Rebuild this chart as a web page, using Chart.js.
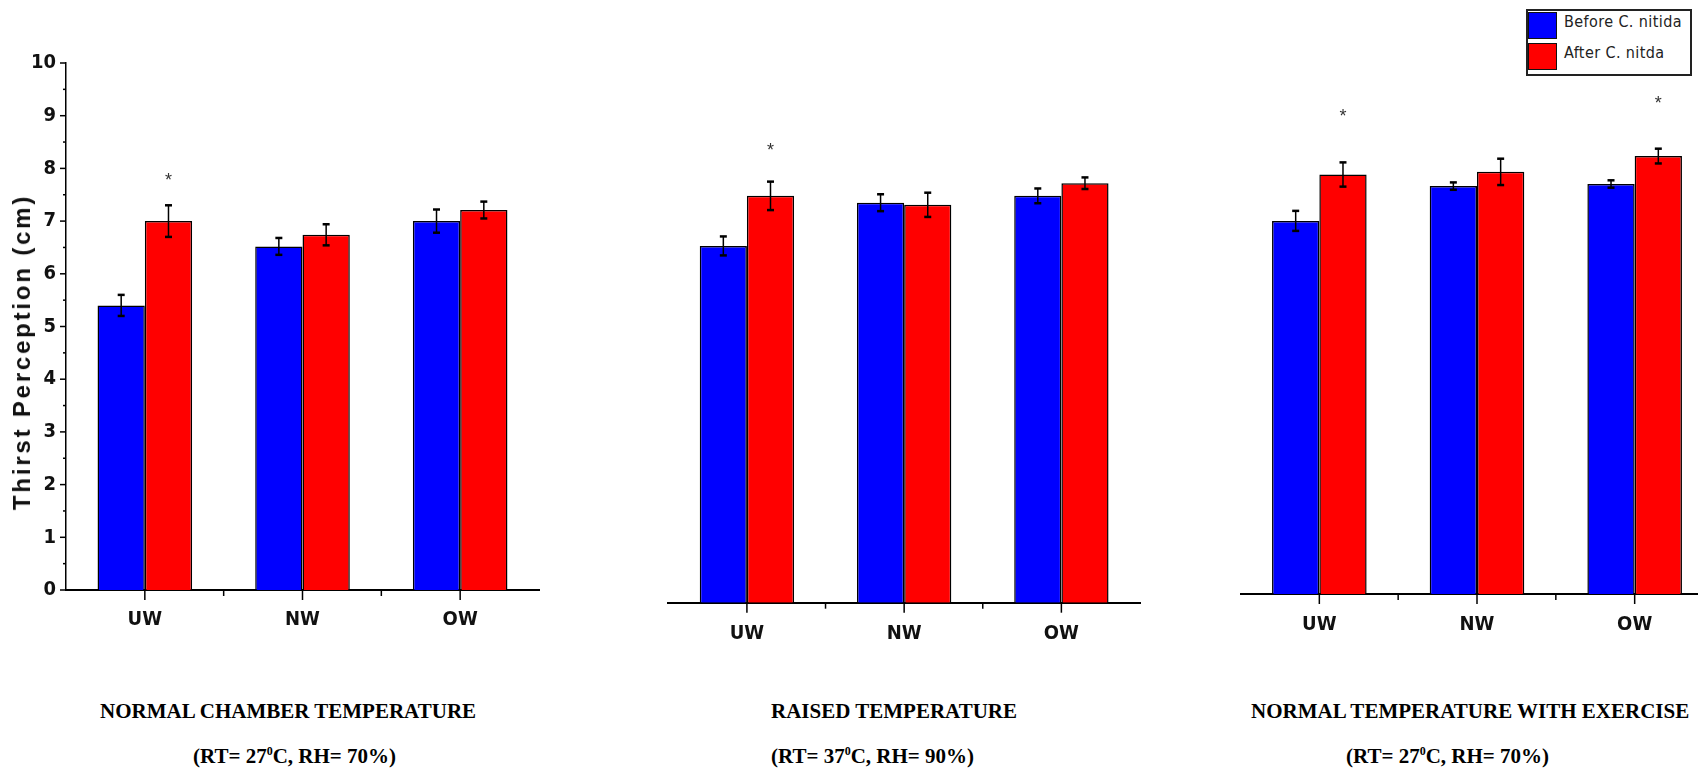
<!DOCTYPE html>
<html>
<head>
<meta charset="utf-8">
<script src="https://cdn.jsdelivr.net/npm/chart.js@4.4.1/dist/chart.umd.min.js"></script>
<style>
  html, body { margin: 0; padding: 0; width: 1698px; height: 770px; overflow: hidden; background: #fff; }
  canvas { position: absolute; top: 0; }
  #c1 { left: 0; }
  #c2 { left: 600px; }
  #c3 { left: 1180px; }
  #ytitle {
    position: absolute; left: 22px; top: 352px;
    transform: translate(-50%, -50%) rotate(-90deg);
    font: bold 24px 'Liberation Sans', Arial, sans-serif; letter-spacing: 2.8px;
    white-space: nowrap; color: #111;
  }
  .cap { position: absolute; font: bold 21px 'Liberation Serif', 'Times New Roman', serif; line-height: 24px; white-space: nowrap; color: #000; }
  .cap sup { font-size: 12px; line-height: 0; vertical-align: 8px; }
  #legend {
    position: absolute; left: 1526px; top: 9px; width: 166px; height: 67px;
    box-sizing: border-box; border: 2px solid #222; background: #fff; z-index: 5;
  }
  #legend .sw { position: absolute; left: 0; width: 29px; height: 27px; box-sizing: border-box; border: 1px solid #111; }
  #legend .lt { position: absolute; left: 36px; height: 27px; line-height: 27px; font: 16px 'Liberation Sans Narrow', 'DejaVu Sans Condensed', sans-serif; letter-spacing: 0.4px; color: #222; white-space: nowrap; }
</style>
</head>
<body>
<canvas id="c1" width="560" height="660"></canvas>
<canvas id="c2" width="560" height="680"></canvas>
<canvas id="c3" width="560" height="680"></canvas>
<div id="ytitle">Thirst Perception (cm)</div>
<div id="legend"></div>

<div class="cap" style="left:100px; top:699px;">NORMAL CHAMBER TEMPERATURE</div>
<div class="cap" style="left:193px; top:744px;">(RT= 27<sup>0</sup>C, RH= 70%)</div>
<div class="cap" style="left:771px; top:699px;">RAISED TEMPERATURE</div>
<div class="cap" style="left:771px; top:744px;">(RT= 37<sup>0</sup>C, RH= 90%)</div>
<div class="cap" style="left:1251px; top:699px;">NORMAL TEMPERATURE WITH EXERCISE</div>
<div class="cap" style="left:1346px; top:744px;">(RT= 27<sup>0</sup>C, RH= 70%)</div>

<script>
const categories = ['UW', 'NW', 'OW'];
const seriesLabels = ['Before C. nitida', 'After C. nitda'];
const seriesColors = ['#0000ff', '#ff0000'];
const yTickValues = [0, 1, 2, 3, 4, 5, 6, 7, 8, 9, 10];

// normal chamber temperature
const normalBefore = [5.40, 6.52, 7.00];
const normalBeforeErr = [0.20, 0.16, 0.22];
const normalAfter = [7.00, 6.74, 7.21];
const normalAfterErr = [0.30, 0.20, 0.16];
const normalStars = [7.84, null, null];

// raised temperature
const raisedBefore = [6.77, 7.59, 7.72];
const raisedBeforeErr = [0.18, 0.16, 0.14];
const raisedAfter = [7.72, 7.55, 7.96];
const raisedAfterErr = [0.27, 0.23, 0.11];
const raisedStars = [8.65, null, null];

// normal temperature with exercise
const exerciseBefore = [7.08, 7.74, 7.78];
const exerciseBeforeErr = [0.19, 0.07, 0.07];
const exerciseAfter = [7.96, 8.01, 8.31];
const exerciseAfterErr = [0.23, 0.25, 0.14];
const exerciseStars = [9.12, null, 9.37];

const narrow = "'Liberation Sans Narrow', 'DejaVu Sans Condensed', sans-serif";

function line(ctx, x1, y1, x2, y2) {
    ctx.beginPath(); ctx.moveTo(x1, y1); ctx.lineTo(x2, y2); ctx.stroke();
}

const tickMarks = {
    id: 'tickMarks',
    afterDraw(chart) {
        const ctx = chart.ctx, x = chart.scales.x, y = chart.scales.y, a = chart.chartArea;
        ctx.save();
        ctx.strokeStyle = '#000';
        ctx.lineWidth = 1.5;
        for (let i = 0; i < x.ticks.length; i++) {
            const px = x.getPixelForTick(i);
            line(ctx, px, a.bottom, px, a.bottom + 10);
            if (i < x.ticks.length - 1) {
                const mid = (px + x.getPixelForTick(i + 1)) / 2;
                line(ctx, mid, a.bottom, mid, a.bottom + 6);
            }
        }
        if (y.options.display) {
            for (let v = 0; v <= 10; v += 0.5) {
                const py = y.getPixelForValue(v);
                line(ctx, a.left - (v % 1 === 0 ? 6 : 3), py, a.left, py);
            }
        }
        ctx.restore();
    }
};

const errorBars = {
    id: 'errorBars',
    afterDatasetsDraw(chart) {
        const ctx = chart.ctx, y = chart.scales.y;
        ctx.save();
        ctx.strokeStyle = '#000';
        chart.data.datasets.forEach((ds, di) => {
            chart.getDatasetMeta(di).data.forEach((bar, i) => {
                const v = ds.data[i], e = ds.errors[i];
                const top = y.getPixelForValue(v + e), bot = y.getPixelForValue(v - e);
                ctx.lineWidth = 1.5;
                line(ctx, bar.x, top, bar.x, bot);
                ctx.lineWidth = 2.5;
                line(ctx, bar.x - 3.5, top, bar.x + 3.5, top);
                line(ctx, bar.x - 3.5, bot, bar.x + 3.5, bot);
            });
        });
        ctx.restore();
    }
};

const starMarks = {
    id: 'stars',
    afterDatasetsDraw(chart, args, opts) {
        const ctx = chart.ctx, y = chart.scales.y, meta = chart.getDatasetMeta(1);
        ctx.save();
        ctx.fillStyle = '#333';
        ctx.font = '18px "Liberation Sans", Arial, sans-serif';
        ctx.textAlign = 'center';
        ctx.textBaseline = 'middle';
        (opts.values || []).forEach((v, i) => {
            if (v == null) return;
            ctx.fillText('*', meta.data[i].x, y.getPixelForValue(v) + 4);
        });
        ctx.restore();
    }
};

function makeChart(id, before, beforeErr, after, afterErr, stars, lay) {
    const tickFont = { family: narrow, size: 20, weight: 'bold' };
    return new Chart(document.getElementById(id), {
        type: 'bar',
        data: {
            labels: categories,
            datasets: [
                { label: seriesLabels[0], data: before, errors: beforeErr, backgroundColor: seriesColors[0], borderColor: '#000', borderWidth: 1.5, categoryPercentage: 0.6, barPercentage: 1.0 },
                { label: seriesLabels[1], data: after, errors: afterErr, backgroundColor: seriesColors[1], borderColor: '#000', borderWidth: 1.5, categoryPercentage: 0.6, barPercentage: 1.0 }
            ]
        },
        options: {
            responsive: false, animation: false, devicePixelRatio: 1,
            layout: { padding: lay.padding },
            plugins: { legend: { display: false }, tooltip: { enabled: false }, stars: { values: stars } },
            scales: {
                x: {
                    offset: true,
                    grid: { display: false, drawTicks: false },
                    border: { display: true, color: '#000', width: 2 },
                    ticks: { color: '#111', padding: lay.labelPad, font: tickFont },
                    afterFit: s => { s.height = lay.xHeight; }
                },
                y: {
                    display: lay.yShow, min: 0, max: 10,
                    grid: { display: false, drawTicks: false },
                    border: { display: true, color: '#000', width: 1.5 },
                    ticks: { stepSize: 1, padding: 10, color: '#111', font: tickFont, autoSkip: false,
                        callback: v => yTickValues.includes(v) ? String(v) : '' },
                    afterFit: s => { s.width = lay.yWidth; }
                }
            }
        },
        plugins: [tickMarks, errorBars, starMarks]
    });
}

makeChart('c1', normalBefore, normalBeforeErr, normalAfter, normalAfterErr, normalStars,
    { padding: { left: 0, top: 63, right: 21, bottom: 0 }, xHeight: 70, yWidth: 66, yShow: true, labelPad: 18 });
makeChart('c2', raisedBefore, raisedBeforeErr, raisedAfter, raisedAfterErr, raisedStars,
    { padding: { left: 68.3, top: 75.7, right: 20, bottom: 0 }, xHeight: 77.3, yWidth: 0, yShow: false, labelPad: 19 });
makeChart('c3', exerciseBefore, exerciseBeforeErr, exerciseAfter, exerciseAfterErr, exerciseStars,
    { padding: { left: 60.5, top: 67, right: 26.5, bottom: 0 }, xHeight: 86, yWidth: 0, yShow: false, labelPad: 19 });

// legend built from the series
const legend = document.getElementById('legend');
seriesLabels.forEach((lab, i) => {
    const top = 1 + i * 31;
    legend.innerHTML += `<span class="sw" style="top:${top}px; background:${seriesColors[i]}"></span>` +
        `<span class="lt" style="top:${top}px">${lab}</span>`;
});
</script>
</body>
</html>
